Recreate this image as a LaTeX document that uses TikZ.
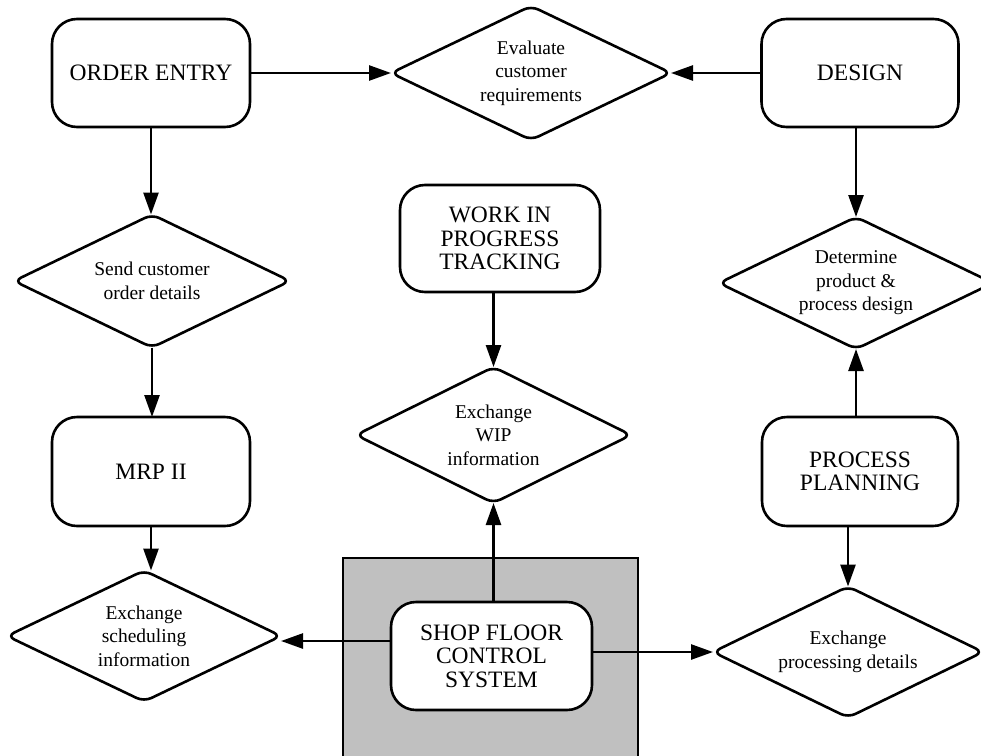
\documentclass[tikz,border=0pt]{standalone}
\usepackage{fontspec}
\setmainfont{Liberation Serif}
\usetikzlibrary{shapes.geometric,arrows.meta}
\definecolor{panelgray}{RGB}{192,192,192}
\begin{document}
\begin{tikzpicture}[x=1pt,y=-1pt,
  every node/.style={inner sep=0pt,outer sep=0pt},
  stepbox/.style={draw,line width=2.6pt,rounded corners=25pt,fill=white,
    align=center,font=\fontsize{23.5}{23.5}\selectfont},
  decision/.style={draw,line width=2.6pt,diamond,rounded corners=8pt,fill=white,
    aspect=2.1,align=center,font=\fontsize{19.5}{23.5}\selectfont},
  flow/.style={line width=2.6pt,-{Triangle[length=22pt,width=15pt]}}]
\useasboundingbox (0,0) rectangle (981,755);
\clip (0,0) rectangle (981,755);

% shaded panel behind the shop floor system
\node[draw,line width=2.6pt,fill=panelgray,minimum width=295pt,minimum height=210pt]
  (panel) at (490.5,663) {};

% process boxes
\node[stepbox,minimum width=198pt,minimum height=108pt] (order) at (151,73) {ORDER ENTRY};
\node[stepbox,minimum width=197pt,minimum height=108pt] (design) at (860,73) {DESIGN};
\node[stepbox,minimum width=200pt,minimum height=107pt] (wip) at (500,238.5) {WORK IN\\PROGRESS\\TRACKING};
\node[stepbox,minimum width=198pt,minimum height=109pt] (mrp) at (151,471.5) {MRP II};
\node[stepbox,minimum width=196pt,minimum height=109pt] (plan) at (860,471.5) {PROCESS\\PLANNING};
\node[stepbox,minimum width=201pt,minimum height=108pt] (shop) at (491.5,656) {SHOP FLOOR\\CONTROL\\SYSTEM};

% decision diamonds
\node[decision,minimum width=280pt,minimum height=134pt] (eval) at (531,73) {Evaluate\\customer\\requirements};
\node[decision,minimum width=276pt,minimum height=133pt] (send) at (152,281) {Send customer\\order details};
\node[decision,minimum width=275pt,minimum height=136pt] (wipx) at (493.5,435) {Exchange\\WIP\\information};
\node[decision,minimum width=274pt,minimum height=132pt] (det) at (856,283) {Determine\\product \&\\process design};
\node[decision,minimum width=274pt,minimum height=131pt] (sched) at (144,636) {Exchange\\scheduling\\information};
\node[decision,minimum width=270pt,minimum height=131pt] (proc) at (848,652) {Exchange\\processing details};

% connectors
\draw[flow] (order.east) -- (eval.west);
\draw[flow] (design.west) -- (eval.east);
\draw[flow] (order.south) -- (send.north -| order.south);
\draw[flow] (send.south) -- (mrp.north -| send.south);
\draw[flow] (mrp.south) -- (sched.north -| mrp.south);
\draw[flow] (wipx.north |- wip.south) -- (wipx.north);
\draw[flow] (design.south -| det.north) -- (det.north);
\draw[flow] (plan.north -| det.south) -- (det.south);
\draw[flow] (plan.south -| proc.north) -- (proc.north);
\draw[flow] (shop.north -| wipx.south) -- (wipx.south);
\draw[flow] ([yshift=15pt]shop.west) -- ([yshift=15pt]shop.west -| sched.east);
\draw[flow] (shop.east |- proc.west) -- (proc.west);
\end{tikzpicture}
\end{document}
